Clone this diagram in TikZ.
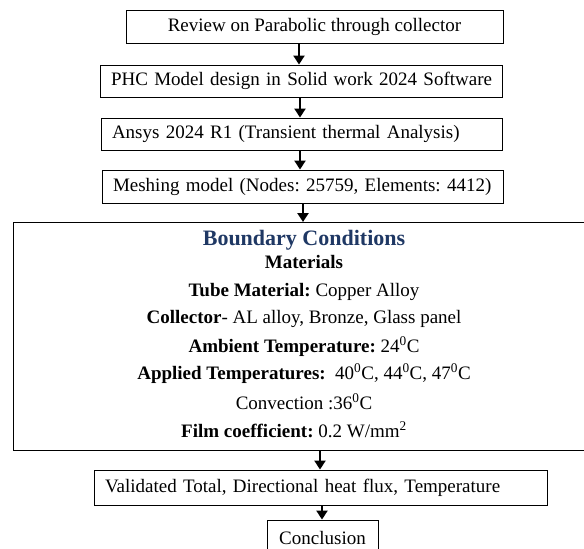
\documentclass[tikz,border=0pt]{standalone}
\usepackage{fontspec}
\setmainfont{Liberation Serif}
\usetikzlibrary{arrows.meta}
\definecolor{headblue}{RGB}{31,56,100}
\frenchspacing
\begin{document}
\begin{tikzpicture}[x=1pt,y=-1pt,
  every node/.style={font=\fontsize{19}{22}\selectfont\frenchspacing, inner sep=0pt},
  cbox/.style={draw=black, line width=0.9pt, align=center, text height=13pt, text depth=4pt},
  lbox/.style={draw=black, line width=0.9pt, align=left, inner xsep=11pt, text height=13pt, text depth=4pt},
  arr/.style={line width=2.8pt, -{Triangle[width=11pt,length=9pt]}},
  bline/.style={anchor=base},
  head/.style={anchor=base, text=headblue, font=\fontsize{22}{26}\selectfont\bfseries}
]
\useasboundingbox (0,0) rectangle (584,549);
\fill[white] (0,0) rectangle (584,549);

\node[cbox, minimum width=377pt, minimum height=33pt] (b1) at (314.5,26.5) {Review on Parabolic through collector};
\node[lbox, text width=380pt, minimum height=32pt] (b2) at (301,81) {\mbox{PHC Model design in Solid work 2024 Software}};
\node[lbox, text width=379pt, minimum height=32pt] (b3) at (301.5,134) {\mbox{Ansys 2024 R1 (Transient thermal Analysis)}};
\node[lbox, text width=379pt, minimum height=33pt] (b4) at (302.5,186.5) {\mbox{Meshing model (Nodes: 25759, Elements: 4412)}};
\node[draw=black, line width=0.9pt, minimum width=590pt, minimum height=228pt, anchor=north west] (bc) at (13,222) {};
\node[lbox, text width=431pt, minimum height=35pt] (b5) at (320.5,487.5) {\mbox{Validated Total, Directional heat flux, Temperature}};
\node[cbox, minimum width=111pt, minimum height=40pt] (b6) at (322.5,540) {Conclusion};

\node[head] (t0) at (304,245) {Boundary Conditions};
\node[bline] (t1) at (304,268) {\textbf{Materials}};
\node[bline] (t2) at (304,296) {\textbf{Tube Material:} Copper Alloy};
\node[bline] (t3) at (304,323) {\textbf{Collector}- AL alloy, Bronze, Glass panel};
\node[bline] (t4) at (304,352) {\textbf{Ambient Temperature:} 24\textsuperscript{0}C};
\node[bline] (t5) at (304,379) {\textbf{Applied Temperatures:}\ \ 40\textsuperscript{0}C, 44\textsuperscript{0}C, 47\textsuperscript{0}C};
\node[bline] (t6) at (304,409) {Convection :36\textsuperscript{0}C};
\node[bline] (t7) at (294,437) {\textbf{Film coefficient:} 0.2 W/mm\textsuperscript{2}};

\draw[arr] (b1.south -| 299,0) -- (b2.north -| 299,0);
\draw[arr] (b2.south -| 300,0) -- (b3.north -| 300,0);
\draw[arr] (b3.south -| 300,0) -- (b4.north -| 300,0);
\draw[arr] (b4.south -| 303,0) -- (bc.north -| 303,0);
\draw[arr] (bc.south -| 320,0) -- (b5.north -| 320,0);
\draw[arr] (b5.south -| 322,0) -- (b6.north -| 322,0);
\end{tikzpicture}
\end{document}
